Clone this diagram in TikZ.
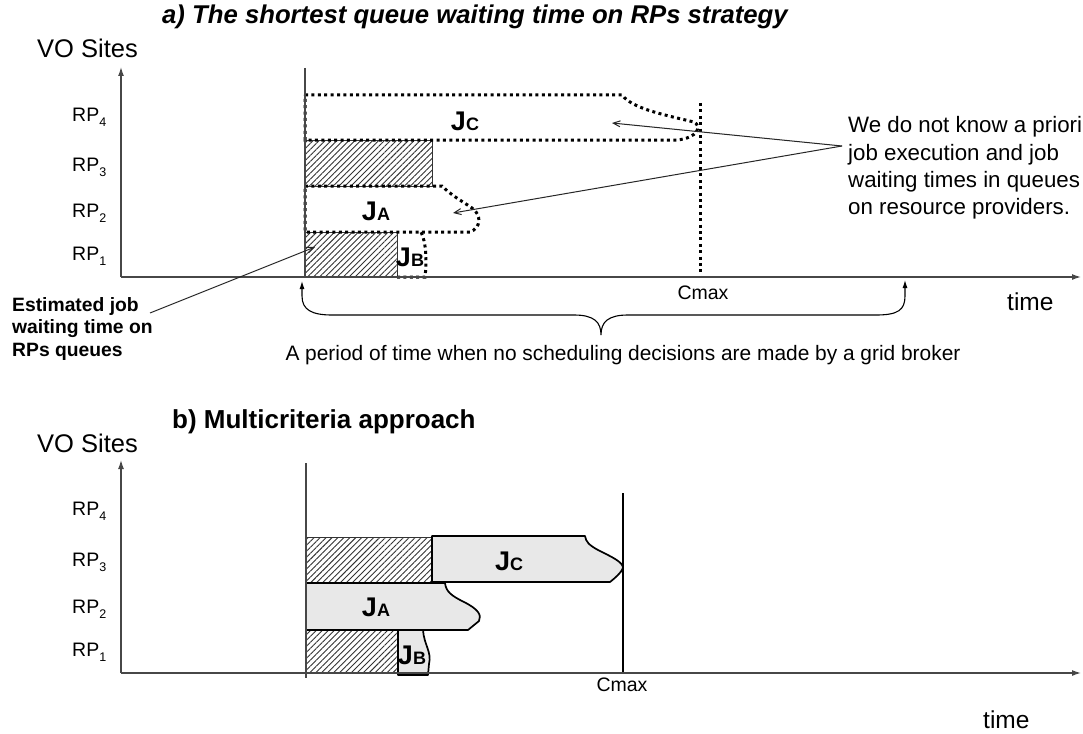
\documentclass[tikz,border=0pt]{standalone}
\usepackage{fontspec}
\setmainfont{Liberation Sans}
\usetikzlibrary{arrows.meta,patterns.meta}

\newcommand\setfs[1]{\fontsize{#1}{#1}\selectfont}
\newcommand\jlabel[1]{\textbf{\setfs{27}J\setfs{18}#1}}
\newcommand\rp[1]{\setfs{19.5}RP\raisebox{-5pt}{\setfs{12.5}#1}}

\tikzset{
  axis/.style={line width=1.3pt, draw=black!72, -{Latex[length=9pt,width=6pt]}},
  baseline line/.style={line width=1.2pt, draw=black!72},
  dots/.style={line width=3pt, dash pattern=on 3pt off 3.4pt},
  hatch/.style={pattern={Lines[angle=45,distance=4.2pt,line width=0.9pt]},
                pattern color=black!80, draw=black!80, line width=0.9pt},
  job/.style={fill=black!9, draw=black, line width=1.7pt, line join=round},
  lbl/.style={inner sep=0pt},
  pointer/.style={line width=1pt, draw=black!85, -{Straight Barb[length=7pt,width=6pt]}},
  upper/.style={line width=1.1pt, {Latex[length=8pt,width=5pt]}-{Latex[length=8pt,width=5pt]}},
}

\begin{document}
\begin{tikzpicture}[x=1pt,y=-1pt]
\useasboundingbox (0,0) rectangle (1083,733);

% ---------------- a) shortest queue waiting time ----------------
\node[lbl,anchor=west,font=\setfs{25.7}\bfseries\itshape] (titleA) at (162,17)
  {a) The shortest queue waiting time on RPs strategy};
\node[lbl,anchor=west,font=\setfs{25.5}] (sitesA) at (37,48) {VO Sites};
\node[lbl,anchor=west] (rpA4) at (72,117) {\rp{4}};
\node[lbl,anchor=west] (rpA3) at (72,167) {\rp{3}};
\node[lbl,anchor=west] (rpA2) at (72,213) {\rp{2}};
\node[lbl,anchor=west] (rpA1) at (72,256) {\rp{1}};

% queue waiting times (known)
\path[hatch] (305,140) rectangle (432,186);
\path[hatch] (305,232) rectangle (397,277);

% unknown job extents
\draw[dots] (305,95) -- (622,95)
  .. controls (632,108) and (660,114) .. (694,122)
  .. controls (702,126) and (698,138) .. (677,140) -- (305,140) -- cycle;
\draw[dots] (305,186) -- (442,186)
  .. controls (452,196) and (462,201) .. (472,208)
  .. controls (482,215) and (481,228) .. (470,232) -- (305,232) -- cycle;
\draw[dots] (397,277) -- (425,277)
  .. controls (427,260) and (426,242) .. (421,232);
\draw[dots] (700,103) -- (700,277);

\node[lbl] (jcA) at (465,121) {\jlabel{C}};
\node[lbl] (jaA) at (376,211) {\jlabel{A}};
\node[lbl] (jbA) at (410,257) {\jlabel{B}};

% axes
\draw[baseline line] (305,68) -- (305,277);
\draw[axis] (121,277) -- (121,67);
\draw[axis] (121,277) -- (1081,277);
\node[lbl,font=\setfs{19.5}] (cmaxA) at (703,293) {Cmax};
\node[lbl,anchor=west,font=\setfs{24.5}] (timeA) at (1007,302) {time};

% annotations
\node[lbl,anchor=west,align=left,font=\fontsize{22.3}{27.3}\selectfont] (unknown) at (848,168)
  {We do not know a priori\\job execution and job\\waiting times in queues\\on resource providers.};
\coordinate (unknownPt) at (842,146);
\coordinate (jcTip) at (612,123);
\coordinate (jaTip) at (453,213);
\draw[pointer] (unknownPt) -- (jcTip);
\draw[pointer] (unknownPt) -- (jaTip);

\node[lbl,anchor=west,align=left,font=\fontsize{19.3}{22.5}\selectfont\bfseries] (estim) at (12,329)
  {Estimated job\\waiting time on\\RPs queues};
\coordinate (estimPt) at (150,313);
\coordinate (hatchTip) at (315,247);
\draw[pointer] (estimPt) -- (hatchTip);

% period without scheduling decisions
\coordinate (periodL) at (302,281);
\coordinate (periodR) at (905,280);
\draw[upper] (periodL) -- (302,296)
  .. controls (302,310) and (312,315) .. (332,315) -- (574,315)
  .. controls (594,315) and (601,322) .. (601,335)
  .. controls (601,322) and (608,315) .. (628,315) -- (876,315)
  .. controls (898,315) and (905,310) .. (905,296) -- (periodR);
\node[lbl,font=\setfs{20.9}] (period) at (623,355)
  {A period of time when no scheduling decisions are made by a grid broker};

% ---------------- b) multicriteria approach ----------------
\node[lbl,anchor=west,font=\setfs{26}\bfseries] (titleB) at (172,422) {b) Multicriteria approach};
\node[lbl,anchor=west,font=\setfs{25.5}] (sitesB) at (37,443) {VO Sites};
\node[lbl,anchor=west] (rpB4) at (72,511) {\rp{4}};
\node[lbl,anchor=west] (rpB3) at (72,562) {\rp{3}};
\node[lbl,anchor=west] (rpB2) at (72,609) {\rp{2}};
\node[lbl,anchor=west] (rpB1) at (72,652) {\rp{1}};

\path[hatch] (306,537) rectangle (432,582);
\path[hatch] (306,630) rectangle (398,673);

\draw[job] (432,536) -- (585,536) .. controls (586,542) and (589,545) .. (598,550)
  .. controls (612,557) and (623,562) .. (623,568)
  .. controls (621,573) and (615,578) .. (610,582) -- (432,582) -- cycle;
\draw[job] (306,583) -- (445,583) .. controls (446,592) and (452,596) .. (464,602)
  .. controls (478,609) and (482,615) .. (479,621) -- (468,630) -- (306,630) -- cycle;
\draw[job] (398,630) -- (423,630) .. controls (424,645) and (432,652) .. (429,664)
  -- (428,675) -- (398,675) -- cycle;

\node[lbl] (jcB) at (509,561) {\jlabel{C}};
\node[lbl] (jaB) at (376,607) {\jlabel{A}};
\node[lbl] (jbB) at (412,655) {\jlabel{B}};

\draw[baseline line] (306,463) -- (306,678);
\draw[line width=2.6pt] (623,493) -- (623,673);
\draw[axis] (121,673) -- (121,460);
\draw[axis] (121,673) -- (1081,673);
\node[lbl,font=\setfs{19.5}] (cmaxB) at (622,685) {Cmax};
\node[lbl,anchor=west,font=\setfs{24.5}] (timeB) at (983,720) {time};
\end{tikzpicture}
\end{document}
